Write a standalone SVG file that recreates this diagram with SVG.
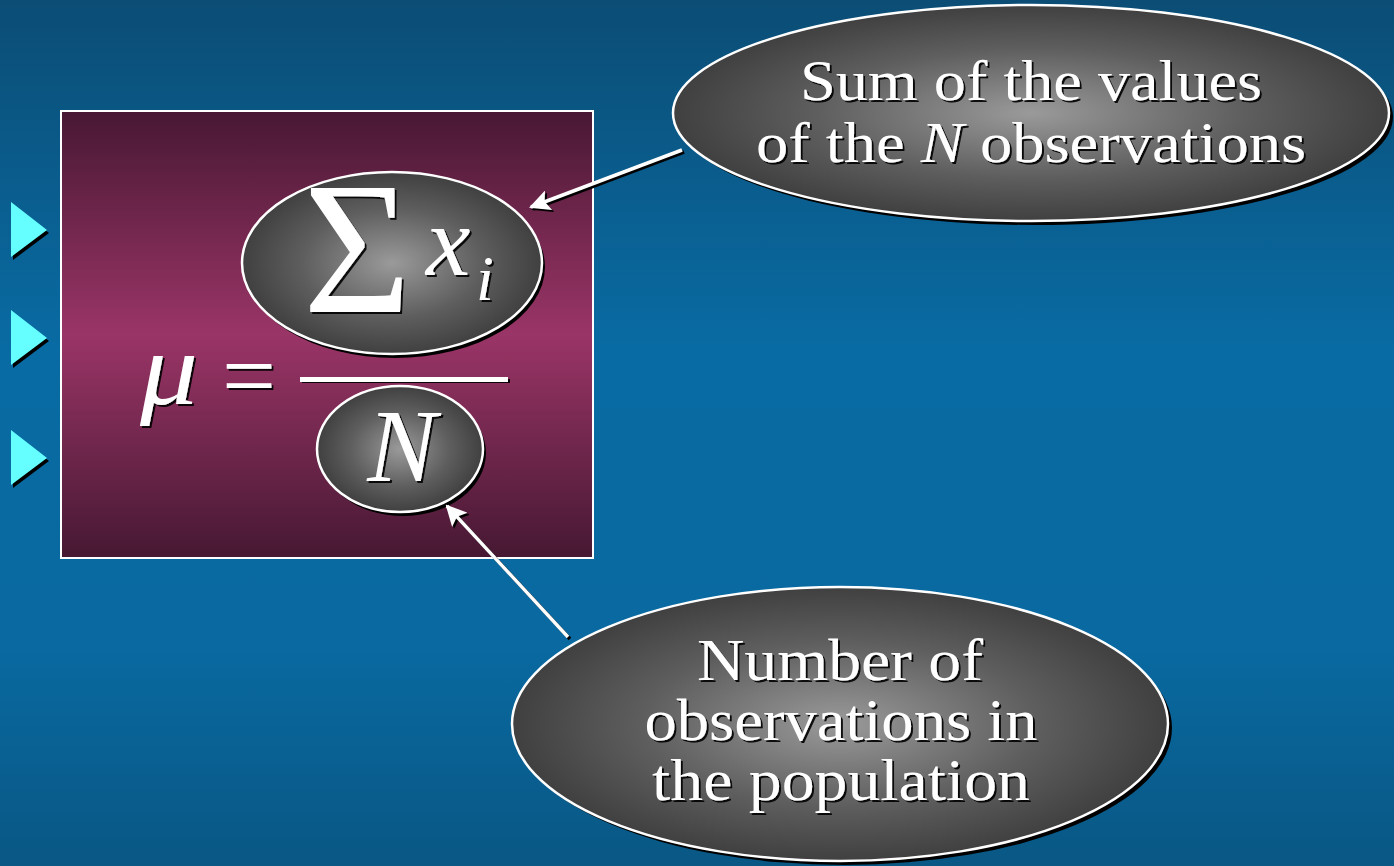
<svg xmlns="http://www.w3.org/2000/svg" width="1394" height="866" viewBox="0 0 1394 866">
<defs>
<linearGradient id="bg" x1="0" y1="0" x2="0" y2="1">
<stop offset="0" stop-color="#0b4d75"/>
<stop offset="0.4" stop-color="#096ba3"/>
<stop offset="0.75" stop-color="#0969a0"/>
<stop offset="1" stop-color="#095784"/>
</linearGradient>
<linearGradient id="pur" x1="0" y1="0" x2="0" y2="1">
<stop offset="0" stop-color="#481833"/>
<stop offset="0.5" stop-color="#9a3567"/>
<stop offset="1" stop-color="#461832"/>
</linearGradient>
<radialGradient id="grey" cx="0.5" cy="0.5" r="0.5">
<stop offset="0" stop-color="#9a9a9a"/>
<stop offset="0.6" stop-color="#5e5e5e"/>
<stop offset="1" stop-color="#404040"/>
</radialGradient>
<filter id="ts" x="-10%" y="-10%" width="120%" height="130%">
<feDropShadow dx="2" dy="2" stdDeviation="0.6" flood-color="#000" flood-opacity="0.9"/>
</filter>
<marker id="ah" viewBox="0 0 10 10" refX="9" refY="5" markerWidth="6" markerHeight="6" orient="auto" markerUnits="strokeWidth">
<path d="M0,0 L10,5 L0,10 L2,5 z" fill="#ffffff"/>
</marker>
<marker id="ahs" viewBox="0 0 10 10" refX="9" refY="5" markerWidth="6" markerHeight="6" orient="auto" markerUnits="strokeWidth">
<path d="M0,0 L10,5 L0,10 L2,5 z" fill="#000000"/>
</marker>
</defs>
<style>
.t{font-family:"Liberation Serif","Times New Roman",serif;fill:#ffffff;filter:url(#ts)}
.el{fill:url(#grey);stroke:#ffffff;stroke-width:2.5}
.sh{fill:#000000}
.bul{fill:#66ffff}
.conn{stroke:#ffffff;stroke-width:3.5;fill:none}
.connsh{stroke:#000000;stroke-width:3.5;fill:none}
</style>
<rect x="0" y="0" width="1394" height="866" fill="url(#bg)"/>

<g id="bullets">
<polygon points="13,205 13,260 49,233" class="sh"/>
<polygon points="11,202 11,257 47,230" class="bul"/>
<polygon points="13,313 13,368 49,341" class="sh"/>
<polygon points="11,310 11,365 47,338" class="bul"/>
<polygon points="13,433 13,488 49,461" class="sh"/>
<polygon points="11,430 11,485 47,458" class="bul"/>
</g>

<g id="formula-box">
<rect x="61" y="111" width="532" height="447" fill="url(#pur)" stroke="#ffffff" stroke-width="2"/>
<text class="t" x="140" y="404" font-size="104" font-style="italic" textLength="58" lengthAdjust="spacingAndGlyphs">μ</text>
<text class="t" x="222" y="408" font-size="96" textLength="54" lengthAdjust="spacingAndGlyphs">=</text>
<rect x="300" y="377" width="208" height="5" fill="#ffffff" filter="url(#ts)"/>
</g>

<g id="sum-node">
<ellipse cx="395" cy="267" rx="150" ry="91" class="sh"/>
<ellipse cx="392" cy="263" rx="150" ry="91" class="el"/>
<text class="t" x="303" y="312" font-size="188" textLength="108" lengthAdjust="spacingAndGlyphs">Σ</text>
<text class="t" x="426" y="275" font-size="100" font-style="italic">x</text>
<text class="t" x="476" y="300" font-size="64" font-style="italic">i</text>
</g>

<g id="n-node">
<ellipse cx="403" cy="453" rx="83" ry="63" class="sh"/>
<ellipse cx="400" cy="449" rx="83" ry="63" class="el"/>
<text class="t" x="402" y="481" font-size="104" font-style="italic" text-anchor="middle">N</text>
</g>

<g id="sum-label">
<ellipse cx="1035" cy="117" rx="358" ry="108" class="sh"/>
<ellipse cx="1031" cy="113" rx="358" ry="108" class="el"/>
<text class="t" x="1031" y="100" font-size="57" text-anchor="middle" textLength="462" lengthAdjust="spacingAndGlyphs">Sum of the values</text>
<text class="t" x="1031" y="162" font-size="57" text-anchor="middle" textLength="550" lengthAdjust="spacingAndGlyphs">of the <tspan font-style="italic">N</tspan> observations</text>
</g>

<g id="count-label">
<ellipse cx="844" cy="728" rx="328" ry="137" class="sh"/>
<ellipse cx="840" cy="724" rx="328" ry="137" class="el"/>
<text class="t" x="840" y="680" font-size="59" text-anchor="middle" textLength="286" lengthAdjust="spacingAndGlyphs">Number of</text>
<text class="t" x="841" y="740" font-size="59" text-anchor="middle" textLength="393" lengthAdjust="spacingAndGlyphs">observations in</text>
<text class="t" x="841" y="800" font-size="59" text-anchor="middle" textLength="378" lengthAdjust="spacingAndGlyphs">the population</text>
</g>

<g id="connectors">
<line x1="684" y1="152" x2="533" y2="209" class="connsh" marker-end="url(#ahs)"/>
<line x1="682" y1="150" x2="531" y2="207" class="conn" marker-end="url(#ah)"/>
<line x1="570" y1="639" x2="449" y2="508" class="connsh" marker-end="url(#ahs)"/>
<line x1="568" y1="637" x2="447" y2="506" class="conn" marker-end="url(#ah)"/>
</g>
</svg>
